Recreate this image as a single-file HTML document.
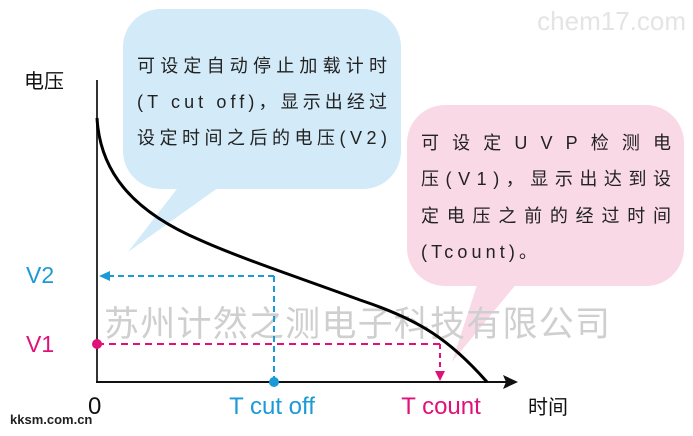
<!DOCTYPE html>
<html><head><meta charset="utf-8"><style>
html,body{margin:0;padding:0;background:#fff;}
svg{display:block;}
text{font-family:"Liberation Sans","Noto Sans CJK SC",sans-serif;}
</style></head><body>
<svg width="693" height="436" viewBox="0 0 693 436" xmlns="http://www.w3.org/2000/svg">
<text x="686" y="30" font-size="26" fill="#e4e4e4" text-anchor="end">chem17.com</text>
<!-- blue bubble -->
<rect x="123" y="9" width="278" height="180" rx="38" fill="#d3ebf8"/>
<polygon points="180,185 222,185 128,252" fill="#d3ebf8"/>
<!-- pink bubble -->
<rect x="407" y="105" width="277" height="181" rx="38" fill="#f9d9e5"/>
<polygon points="478,282 518,282 452,362" fill="#f9d9e5"/>
<!-- watermark -->
<text x="104" y="336" font-size="35" fill="#cfcfcf" textLength="506" lengthAdjust="spacing">苏州计然之测电子科技有限公司</text>
<!-- axes -->
<line x1="97" y1="80" x2="97" y2="383" stroke="#333" stroke-width="2"/>
<line x1="96" y1="382" x2="510" y2="382" stroke="#111" stroke-width="2"/>
<polygon points="518,382 503,375 506,382 503,389" fill="#111"/>
<!-- curve -->
<path d="M97,118 C100,170 130,210 200,240 C240,258 300,278 360,300 C420,320 450,340 487,382" fill="none" stroke="#000" stroke-width="3"/>
<!-- V2 dashed -->
<line x1="108" y1="276" x2="274" y2="276" stroke="#1a9ad6" stroke-width="2" stroke-dasharray="6,4"/>
<polygon points="99,276 110,271 110,281" fill="#1a9ad6"/>
<line x1="274" y1="276" x2="274" y2="380" stroke="#1a9ad6" stroke-width="2" stroke-dasharray="6,4"/>
<circle cx="274" cy="382" r="5" fill="#1a9ad6"/>
<!-- V1 dashed -->
<line x1="97" y1="344" x2="440" y2="344" stroke="#e0127a" stroke-width="2" stroke-dasharray="7,5"/>
<line x1="440" y1="344" x2="440" y2="372" stroke="#e0127a" stroke-width="2" stroke-dasharray="5,4"/>
<polygon points="440,381 435,371 445,371" fill="#e0127a"/>
<circle cx="97" cy="344" r="5" fill="#e0127a"/>
<!-- labels -->
<text x="24" y="88" font-size="20" fill="#111">电压</text>
<text x="26" y="283" font-size="23" fill="#1a9ad6">V2</text>
<text x="26" y="352" font-size="23" fill="#e0127a">V1</text>
<text x="88" y="414" font-size="24" fill="#111">0</text>
<text x="272" y="414" font-size="24" fill="#1a9ad6" text-anchor="middle">T cut off</text>
<text x="441" y="414" font-size="24" fill="#e0127a" text-anchor="middle">T count</text>
<text x="528" y="414" font-size="20" fill="#111">时间</text>
<text x="10" y="424" font-size="13" fill="#222" font-weight="bold">kksm.com.cn</text>
<!-- blue text -->
<g font-size="18" fill="#222">
<text x="137" y="72" textLength="250" lengthAdjust="spacing">可设定自动停止加载计时</text>
<text x="137" y="108" textLength="250" lengthAdjust="spacing">(T cut off)，显示出经过</text>
<text x="137" y="144" textLength="250" lengthAdjust="spacing">设定时间之后的电压(V2)</text>
</g>
<!-- pink text -->
<g font-size="18" fill="#222">
<text x="421" y="149" textLength="250" lengthAdjust="spacing">可设定UVP检测电</text>
<text x="421" y="185" textLength="250" lengthAdjust="spacing">压(V1)，显示出达到设</text>
<text x="421" y="222" textLength="250" lengthAdjust="spacing">定电压之前的经过时间</text>
<text x="421" y="258" textLength="116" lengthAdjust="spacing">(Tcount)。</text>
</g>
</svg>
</body></html>
